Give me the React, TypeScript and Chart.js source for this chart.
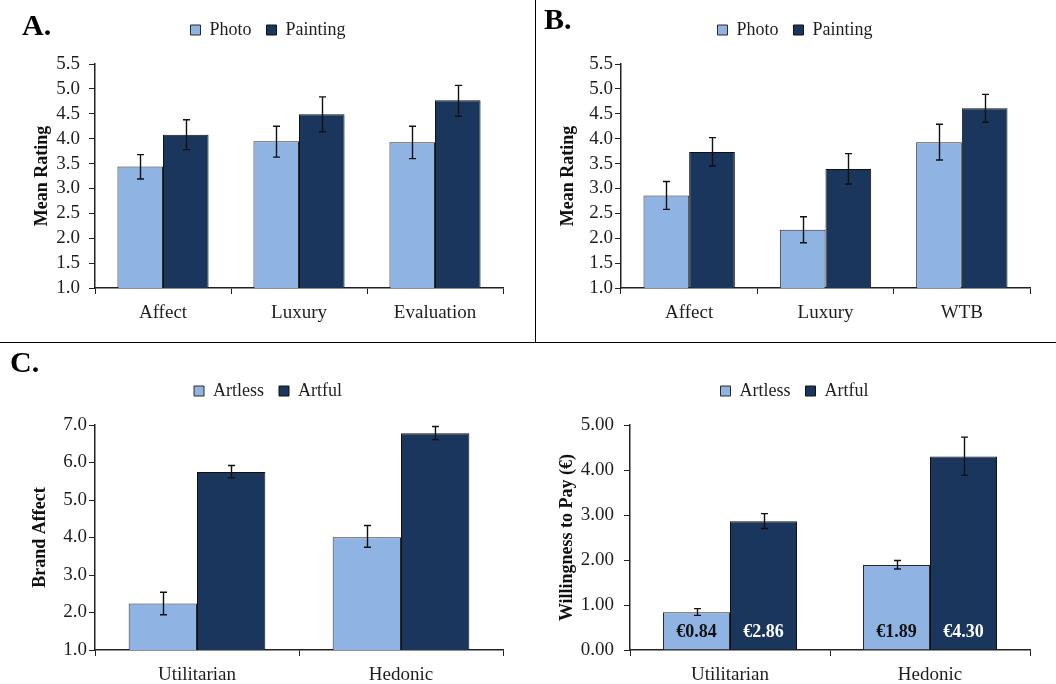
import React, { useEffect, useRef } from "react";
import { Chart, registerables } from "chart.js";
Chart.register(...registerables);

// ---------- Data ----------
const aCategories = ["Affect", "Luxury", "Evaluation"];
const aPhoto = [3.44, 3.95, 3.93];
const aPhotoLow = [3.19, 3.63, 3.6];
const aPhotoHigh = [3.68, 4.25, 4.25];
const aPainting = [4.08, 4.49, 4.77];
const aPaintingLow = [3.78, 4.14, 4.45];
const aPaintingHigh = [4.38, 4.84, 5.07];

const bCategories = ["Affect", "Luxury", "WTB"];
const bPhoto = [2.86, 2.17, 3.93];
const bPhotoLow = [2.58, 1.91, 3.57];
const bPhotoHigh = [3.14, 2.43, 4.29];
const bPainting = [3.73, 3.39, 4.61];
const bPaintingLow = [3.45, 3.09, 4.33];
const bPaintingHigh = [4.02, 3.7, 4.89];

const cCategories = ["Utilitarian", "Hedonic"];
const cArtless = [2.24, 4.01];
const cArtlessLow = [1.94, 3.74];
const cArtlessHigh = [2.54, 4.32];
const cArtful = [5.75, 6.78];
const cArtfulLow = [5.59, 6.61];
const cArtfulHigh = [5.92, 6.96];

const dCategories = ["Utilitarian", "Hedonic"];
const dArtless = [0.84, 1.89];
const dArtlessLow = [0.77, 1.8];
const dArtlessHigh = [0.92, 1.99];
const dArtful = [2.86, 4.3];
const dArtfulLow = [2.7, 3.88];
const dArtfulHigh = [3.03, 4.73];

const LIGHT = "#8FB4E3";
const DARK = "#1A365C";
const TEXT = "#1e1e1e";
const FONT = "'Liberation Serif', 'Times New Roman', serif";

// ---------- Plugins ----------
const errorBarsPlugin = {
  id: "errorBars",
  afterDatasetsDraw(chart: any, _args: any, opts: any) {
    if (!opts || !opts.low) return;
    const { ctx } = chart;
    const y = chart.scales.y;
    ctx.save();
    ctx.strokeStyle = "#111";
    ctx.lineWidth = 1.4;
    chart.data.datasets.forEach((_ds: any, di: number) => {
      const meta = chart.getDatasetMeta(di);
      meta.data.forEach((bar: any, i: number) => {
        const lo = y.getPixelForValue(opts.low[di][i]);
        const hi = y.getPixelForValue(opts.high[di][i]);
        const x = Math.round(bar.x) + 0.5;
        const cap = 3.5;
        ctx.beginPath();
        ctx.moveTo(x, lo);
        ctx.lineTo(x, hi);
        ctx.moveTo(x - cap, lo);
        ctx.lineTo(x + cap, lo);
        ctx.moveTo(x - cap, hi);
        ctx.lineTo(x + cap, hi);
        ctx.stroke();
      });
    });
    ctx.restore();
  },
};

const barLabelsPlugin = {
  id: "barLabels",
  afterDatasetsDraw(chart: any, _args: any, opts: any) {
    if (!opts || !opts.show) return;
    const { ctx } = chart;
    ctx.save();
    ctx.font = `bold 18px ${FONT}`;
    ctx.textAlign = "center";
    ctx.textBaseline = "middle";
    chart.data.datasets.forEach((ds: any, di: number) => {
      const meta = chart.getDatasetMeta(di);
      meta.data.forEach((bar: any, i: number) => {
        ctx.fillStyle = opts.colors[di];
        ctx.fillText("€" + Number(ds.data[i]).toFixed(2), bar.x, bar.base - opts.offset);
      });
    });
    ctx.restore();
  },
};

// adds extra space beneath the legend
const legendGapPlugin = {
  id: "legendGap",
  beforeLayout(chart: any, _args: any, opts: any) {
    const lg = chart.legend;
    if (lg && !lg._gapPatched) {
      const orig = lg.fit.bind(lg);
      lg.fit = function () {
        orig();
        this.height += (opts && opts.extra) || 0;
      };
      lg._gapPatched = true;
    }
  },
};

// ---------- Panel ----------
type PanelProps = {
  left: number;
  top: number;
  width: number;
  height: number;
  categories: string[];
  labels: [string, string];
  series: [number[], number[]];
  low: [number[], number[]];
  high: [number[], number[]];
  yMin: number;
  yMax: number;
  yStep: number;
  yDecimals: number;
  yTitle: string;
  yAxisWidth: number;
  yTitlePad: number;
  yTickPad: number;
  padTop: number;
  padLeft: number;
  padRight: number;
  xAxisHeight: number;
  valueLabels?: boolean;
};

function Panel(p: PanelProps) {
  const ref = useRef<HTMLCanvasElement | null>(null);
  useEffect(() => {
    if (!ref.current) return;
    const chart = new Chart(ref.current, {
      type: "bar",
      data: {
        labels: p.categories,
        datasets: [
          {
            label: p.labels[0],
            data: p.series[0],
            backgroundColor: LIGHT,
            borderColor: "#2a2a2a",
            borderWidth: 1,
            categoryPercentage: 0.67,
            barPercentage: 1,
          },
          {
            label: p.labels[1],
            data: p.series[1],
            backgroundColor: DARK,
            borderColor: "#111",
            borderWidth: 1,
            categoryPercentage: 0.67,
            barPercentage: 1,
          },
        ],
      },
      options: {
        animation: false,
        responsive: false,
        maintainAspectRatio: false,
        layout: { padding: { top: p.padTop, right: p.padRight, left: p.padLeft, bottom: 0 } },
        plugins: {
          legend: {
            position: "top",
            labels: {
              font: { family: FONT, size: 18 },
              color: TEXT,
              boxWidth: 10,
              boxHeight: 10,
              padding: 15,
            },
          },
          legendGap: { extra: 15 },
          tooltip: { enabled: false },
          errorBars: { low: p.low, high: p.high },
          barLabels: { show: !!p.valueLabels, colors: ["#111", "#fff"], offset: 17 },
        } as any,
        scales: {
          x: {
            grid: {
              offset: true,
              drawOnChartArea: false,
              drawTicks: true,
              tickLength: 6,
              color: "#222",
              lineWidth: 1,
            },
            border: { color: "#222", width: 1.5 },
            ticks: { font: { family: FONT, size: 19 }, color: TEXT, padding: 8 },
            afterFit: (s: any) => {
              s.height = p.xAxisHeight;
            },
          },
          y: {
            min: p.yMin,
            max: p.yMax,
            grid: { drawOnChartArea: false, drawTicks: true, tickLength: 6, color: "#222" },
            border: { color: "#222", width: 1.5 },
            ticks: {
              stepSize: p.yStep,
              autoSkip: false,
              font: { family: FONT, size: 19 },
              color: TEXT,
              padding: p.yTickPad,
              callback: (v: any) => Number(v).toFixed(p.yDecimals),
            },
            title: {
              display: true,
              text: p.yTitle,
              font: { family: FONT, size: 18, weight: "bold", lineHeight: 1 },
              color: "#111",
              padding: { top: p.yTitlePad, bottom: 0 },
            },
            afterFit: (s: any) => {
              s.width = p.yAxisWidth;
            },
          },
        },
      } as any,
      plugins: [errorBarsPlugin, barLabelsPlugin, legendGapPlugin],
    });
    return () => chart.destroy();
  }, []);
  return (
    <canvas
      ref={ref}
      width={p.width}
      height={p.height}
      style={{ position: "absolute", left: p.left, top: p.top, width: p.width, height: p.height }}
    />
  );
}

const labelStyle: React.CSSProperties = {
  position: "absolute",
  fontFamily: FONT,
  fontWeight: "bold",
  fontSize: 30,
  lineHeight: "30px",
  color: "#000",
};

export default function App() {
  return (
    <div
      style={{
        position: "fixed",
        left: 0,
        top: 0,
        width: 1056,
        height: 684,
        background: "#fff",
        overflow: "hidden",
      }}
    >
      <Panel
        left={0}
        top={0}
        width={528}
        height={340}
        categories={aCategories}
        labels={["Photo", "Painting"]}
        series={[aPhoto, aPainting]}
        low={[aPhotoLow, aPaintingLow]}
        high={[aPhotoHigh, aPaintingHigh]}
        yMin={1}
        yMax={5.5}
        yStep={0.5}
        yDecimals={1}
        yTitle="Mean Rating"
        yAxisWidth={62}
        yTitlePad={0}
        yTickPad={9}
        padTop={6}
        padLeft={33}
        padRight={25}
        xAxisHeight={52}
      />
      <Panel
        left={536}
        top={0}
        width={520}
        height={340}
        categories={bCategories}
        labels={["Photo", "Painting"]}
        series={[bPhoto, bPainting]}
        low={[bPhotoLow, bPaintingLow]}
        high={[bPhotoHigh, bPaintingHigh]}
        yMin={1}
        yMax={5.5}
        yStep={0.5}
        yDecimals={1}
        yTitle="Mean Rating"
        yAxisWidth={61}
        yTitlePad={-1}
        yTickPad={2}
        padTop={6}
        padLeft={24}
        padRight={26}
        xAxisHeight={52}
      />
      <Panel
        left={0}
        top={344}
        width={528}
        height={340}
        categories={cCategories}
        labels={["Artless", "Artful"]}
        series={[cArtless, cArtful]}
        low={[cArtlessLow, cArtfulLow]}
        high={[cArtlessHigh, cArtfulHigh]}
        yMin={1}
        yMax={7}
        yStep={1}
        yDecimals={1}
        yTitle="Brand Affect"
        yAxisWidth={62}
        yTitlePad={-2}
        yTickPad={2}
        padTop={23}
        padLeft={33}
        padRight={25}
        xAxisHeight={34}
      />
      <Panel
        left={536}
        top={344}
        width={520}
        height={340}
        categories={dCategories}
        labels={["Artless", "Artful"]}
        series={[dArtless, dArtful]}
        low={[dArtlessLow, dArtfulLow]}
        high={[dArtlessHigh, dArtfulHigh]}
        yMin={0}
        yMax={5}
        yStep={1}
        yDecimals={2}
        yTitle="Willingness to Pay (€)"
        yAxisWidth={71}
        yTitlePad={-1}
        yTickPad={10}
        padTop={23}
        padLeft={23}
        padRight={26}
        xAxisHeight={34}
        valueLabels
      />
      <div style={{ ...labelStyle, left: 22, top: 10 }}>A.</div>
      <div style={{ ...labelStyle, left: 544, top: 4 }}>B.</div>
      <div style={{ ...labelStyle, left: 10, top: 347 }}>C.</div>
      <div style={{ position: "absolute", left: 535, top: 0, width: 1, height: 343, background: "#000" }} />
      <div style={{ position: "absolute", left: 0, top: 342, width: 1056, height: 1, background: "#000" }} />
    </div>
  );
}
